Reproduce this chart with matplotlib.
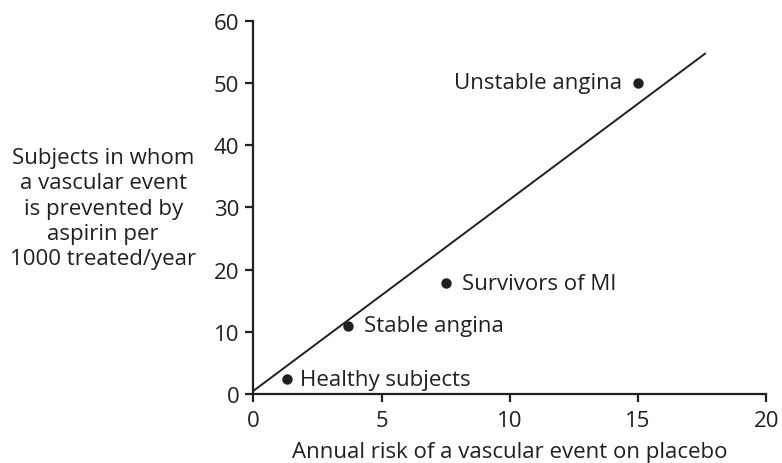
import matplotlib
matplotlib.use("Agg")
import matplotlib.pyplot as plt

# Data
groups = ["Healthy subjects", "Stable angina", "Survivors of MI", "Unstable angina"]
risk_placebo = [1.3, 3.7, 7.5, 15.0]
prevented = [2.4, 11.0, 17.8, 50.0]
line_x = [0.0, 17.64]
line_y = [0.5, 54.8]
x_ticks = [0, 5, 10, 15, 20]
y_ticks = [0, 10, 20, 30, 40, 50, 60]

plt.rcParams['font.family'] = ['Open Sans', 'DejaVu Sans']
fs = 16
col = '#231f20'

fig = plt.figure(figsize=(7.82, 4.64), dpi=100)
ax = fig.add_axes([0.324, 0.1487, 0.656, 0.8045])
ax.plot(line_x, line_y, color=col, lw=1.4, solid_capstyle='butt')
ax.plot(risk_placebo, prevented, 'o', color=col, ms=7.5, mec='none')

offsets = {"Unstable angina": (-11.5, 'right'), "Survivors of MI": (11.5, 'left'),
           "Stable angina": (11.5, 'left'), "Healthy subjects": (9.5, 'left')}
for g, x, y in zip(groups, risk_placebo, prevented):
    dx, ha = offsets[g]
    ax.annotate(g, (x, y), xytext=(dx, 0), textcoords='offset points',
                ha=ha, va='center', fontsize=fs, color=col)

ax.set_xlim(0, 20)
ax.set_ylim(0, 60)
ax.set_xticks(x_ticks)
ax.set_yticks(y_ticks)
for s in ['top', 'right']:
    ax.spines[s].set_visible(False)
for s in ['left', 'bottom']:
    ax.spines[s].set_linewidth(1.6)
    ax.spines[s].set_color(col)
ax.tick_params(direction='out', length=5.5, width=1.6, color=col,
               labelsize=fs, labelcolor=col)
ax.tick_params(axis='x', pad=6)
ax.tick_params(axis='y', pad=4.5)
ax.set_xlabel("Annual risk of a vascular event on placebo", fontsize=fs, color=col, labelpad=7)
fig.text(0.132, 0.549, "Subjects in whom\na vascular event\nis prevented by\naspirin per\n1000 treated/year",
         ha='center', va='center', fontsize=fs, color=col, linespacing=1.27)

fig.savefig("out.png", dpi=100)
